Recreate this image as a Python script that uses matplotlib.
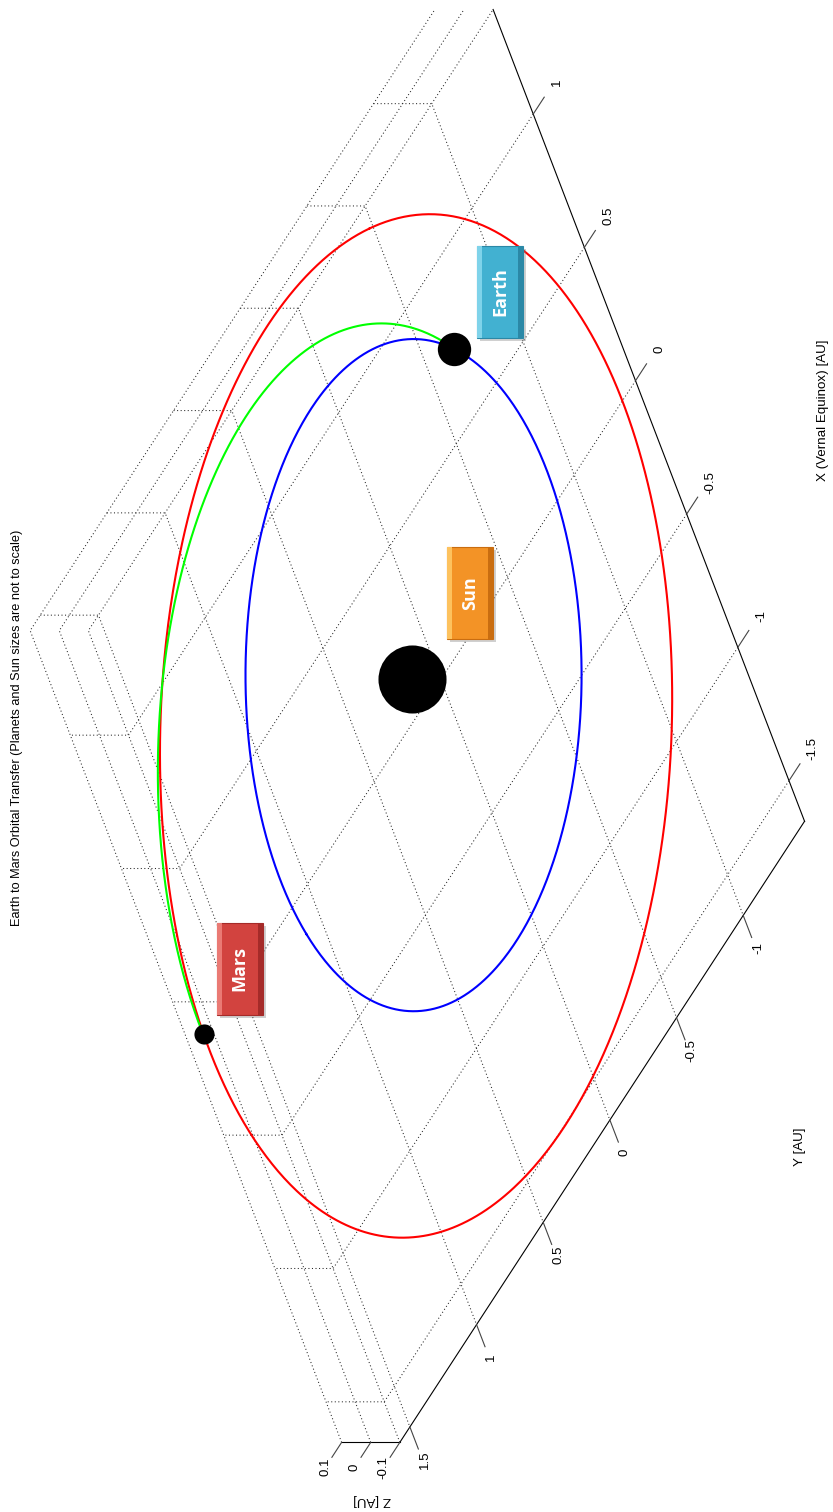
import numpy as np
import matplotlib
matplotlib.use("Agg")
import matplotlib.pyplot as plt
from matplotlib import transforms as mtransforms
from matplotlib.patches import Rectangle
from mpl_toolkits.mplot3d import proj3d

plt.rcParams['font.family'] = ['Liberation Sans', 'DejaVu Sans']

# Heliocentric orbital elements (AU, degrees): Earth, Mars, transfer arc
semi_major = [1.0000, 1.5237, 1.3119]
eccentricity = [0.0167, 0.0934, 0.2448]
inclination_deg = [0.0, 1.85, 0.0]
node_deg = [0.0, 49.56, 0.0]
peri_lon_deg = [102.9, 336.06, 279.26]

# True anomalies of the bodies at departure / arrival and along the transfer
earth_nu_depart = 205.3
mars_nu_arrive = 118.34
transfer_nu = [28.94, 173.74]

x_ticks = [-1.5, -1.0, -0.5, 0.0, 0.5, 1.0]
x_tick_labels = ['-1.5', '-1', '-0.5', '0', '0.5', '1']
y_ticks = [-1.0, -0.5, 0.0, 0.5, 1.0, 1.5]
y_tick_labels = ['-1', '-0.5', '0', '0.5', '1', '1.5']
z_ticks = [-0.1, 0.0, 0.1]
z_tick_labels = ['-0.1', '0', '0.1']
z_limits = [-0.1, 0.1]


def orbit_xyz(k, nu_deg):
    """Position on conic k for true anomaly nu (degrees)."""
    nu = np.radians(np.asarray(nu_deg, dtype=float))
    a, e = semi_major[k], eccentricity[k]
    inc = np.radians(inclination_deg[k])
    node = np.radians(node_deg[k])
    argp = np.radians(peri_lon_deg[k] - node_deg[k])
    r = a * (1 - e ** 2) / (1 + e * np.cos(nu))
    u = argp + nu
    x = r * (np.cos(node) * np.cos(u) - np.sin(node) * np.sin(u) * np.cos(inc))
    y = r * (np.sin(node) * np.cos(u) + np.cos(node) * np.sin(u) * np.cos(inc))
    z = r * np.sin(u) * np.sin(inc)
    return x, y, z


full_turn = np.linspace(0.0, 360.0, 721)
earth_orbit = orbit_xyz(0, full_turn)
mars_orbit = orbit_xyz(1, full_turn)
transfer_arc = orbit_xyz(2, np.linspace(transfer_nu[0], transfer_nu[1], 400))
earth_pos = orbit_xyz(0, earth_nu_depart)
mars_pos = orbit_xyz(1, mars_nu_arrive)

x_limits = [mars_orbit[0].min(), mars_orbit[0].max()]
y_limits = [mars_orbit[1].min(), mars_orbit[1].max()]

W, H, DPI = 833, 1512, 100
fig = plt.figure(figsize=(W / DPI, H / DPI), dpi=DPI)
side = 833
ax = fig.add_axes([-10.4 / W, 358.3 / H, side / W, side / H],
                  projection='3d', proj_type='ortho')
ax.computed_zorder = False
ax.set_xlim(x_limits)
ax.set_ylim(y_limits)
ax.set_zlim(z_limits)
ax.set_box_aspect((x_limits[1] - x_limits[0], y_limits[1] - y_limits[0],
                   z_limits[1] - z_limits[0]), zoom=1.6858)
ax.view_init(elev=30, azim=-127.5, roll=90)

ax.set_xticks(x_ticks)
ax.set_xticklabels(x_tick_labels)
ax.set_yticks(y_ticks)
ax.set_yticklabels(y_tick_labels)
ax.set_zticks(z_ticks)
ax.set_zticklabels(z_tick_labels)
ax.tick_params(axis='x', labelsize=9.5, pad=8, colors='#444444', labelcolor='black')
ax.tick_params(axis='y', labelsize=9.5, pad=4.5, colors='#444444', labelcolor='black')
ax.tick_params(axis='z', labelsize=9.5, pad=4.5, colors='#444444', labelcolor='black')

# z ticks and their labels run along the y direction, away from the box
zinfo = {k: dict(v) for k, v in ax.zaxis._AXINFO.items()}
zinfo['z']['tickdir'] = 1
ax.zaxis._AXINFO = zinfo
ax.zaxis._axmask = lambda: [False, True, False]

for axis in (ax.xaxis, ax.yaxis, ax.zaxis):
    axis.set_pane_color((1, 1, 1, 0))
    axis._axinfo['tick']['inward_factor'] = 0.34
    axis._axinfo['tick']['outward_factor'] = 0.0
    axis._axinfo['axisline']['color'] = 'black'
    axis._axinfo['axisline']['linewidth'] = 0.8
    axis._axinfo['grid'].update(color='#262626', linewidth=0.75,
                                linestyle=(0, (1, 2.4)))
    for t in axis.get_major_ticks():
        t.label1.set_rotation(90)
        t.label1.set_horizontalalignment('center')
        t.label1.set_verticalalignment('center')
ax.zaxis._axinfo['tick']['inward_factor'] = -0.30
ax.grid(True)

# Orbits
ax.plot(*mars_orbit, color=(1, 0, 0), lw=1.5, zorder=2, clip_on=False)
ax.plot(*earth_orbit, color=(0, 0, 1), lw=1.5, zorder=2, clip_on=False)
ax.plot(*transfer_arc, color=(0, 1, 0), lw=1.5, zorder=2.5, clip_on=False)

# Bodies (sizes not to scale)
ax.plot([0], [0], [0], 'o', color='k', ms=49, mew=0, zorder=3, clip_on=False)
ax.plot([earth_pos[0]], [earth_pos[1]], [earth_pos[2]], 'o', color='k',
        ms=24, mew=0, zorder=3, clip_on=False)
ax.plot([mars_pos[0]], [mars_pos[1]], [mars_pos[2]], 'o', color='k',
        ms=14.5, mew=0, zorder=3, clip_on=False)


def body_label(pos, text, offset_px, face, light, dark):
    """Bevelled name plate placed at a pixel offset from a body."""
    x2, y2, _ = proj3d.proj_transform(pos[0], pos[1], pos[2], ax.get_proj())
    tr = fig.dpi_scale_trans + mtransforms.ScaledTranslation(x2, y2, ax.transData)
    cx, cy = offset_px[0] / DPI, offset_px[1] / DPI
    w, h = 0.46, 0.92
    x0, y0 = cx - w / 2, cy - h / 2
    fig.add_artist(Rectangle((x0 + 0.03, y0 - 0.03), w, h, transform=tr,
                             fc='#7a7a7a', ec='none', alpha=0.35, zorder=10))
    fig.add_artist(Rectangle((x0, y0), w, h, transform=tr, fc=face,
                             ec=dark, lw=0.8, zorder=11))
    fig.add_artist(Rectangle((x0, y0), 0.05, h, transform=tr, fc=light,
                             ec='none', zorder=12))
    fig.add_artist(Rectangle((x0 + w - 0.05, y0), 0.05, h, transform=tr,
                             fc=dark, ec='none', zorder=12))
    fig.text(cx, cy, text, transform=tr, rotation=90, ha='center', va='center',
             color='white', fontsize=13, fontweight='bold',
             family=['Open Sans', 'DejaVu Sans'], zorder=13)


body_label(earth_pos, 'Earth', (46, 57), '#42b1d1', '#7fd3ea', '#2b88a6')
body_label((0.0, 0.0, 0.0), 'Sun', (58, 86.5), '#f39326', '#fdc25e', '#c96d10')
body_label(mars_pos, 'Mars', (36, 65.5), '#d2433f', '#ea7a74', '#a52b29')

# Title and axis names
fig.text(17 / W, 1 - 728 / H,
         'Earth to Mars Orbital Transfer (Planets and Sun sizes are not to scale)',
         rotation=90, ha='center', va='center', fontsize=9.2)
fig.text(823 / W, 1 - 410 / H, 'X (Vernal Equinox) [AU]', rotation=90,
         ha='center', va='center', fontsize=9.6)
fig.text(800 / W, 1 - 1147 / H, 'Y [AU]', rotation=90, ha='center',
         va='center', fontsize=9.6)
fig.text(372 / W, 1 - 1500 / H, 'Z [AU]', rotation=180, ha='center',
         va='center', fontsize=9.6)

fig.savefig('out.png', dpi=DPI)
